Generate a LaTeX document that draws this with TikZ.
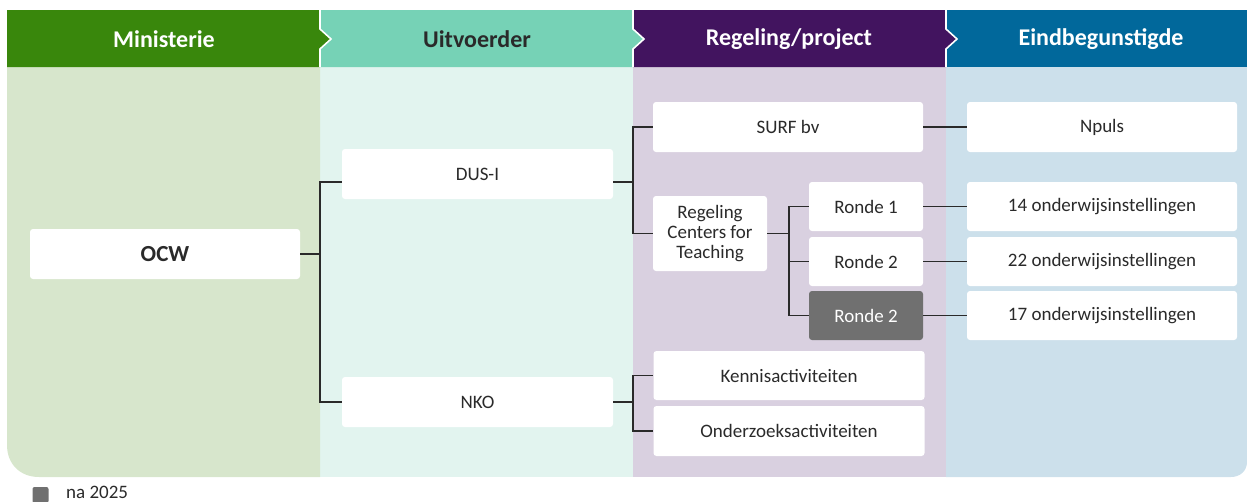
\documentclass[tikz,border=0pt]{standalone}
\usepackage{fontspec}
\setmainfont{Carlito}
\usetikzlibrary{calc}
\definecolor{hgreen}{HTML}{39870C}
\definecolor{hteal}{HTML}{76D2B6}
\definecolor{hpurple}{HTML}{42145F}
\definecolor{hblue}{HTML}{01689B}
\definecolor{lgreen}{HTML}{D7E6CC}
\definecolor{lteal}{HTML}{E2F4EF}
\definecolor{lpurple}{HTML}{D9D0E0}
\definecolor{lblue}{HTML}{CCE0EB}
\definecolor{txt}{HTML}{2A2A2A}
\definecolor{later}{HTML}{707070}
\tikzset{
  box/.style={fill=white, rounded corners=3pt, inner sep=0pt, align=center,
    text=txt, font=\fontsize{19}{20}\selectfont},
  wide/.style={box, minimum width=271pt, minimum height=49pt},
  small/.style={box, minimum width=114pt, minimum height=49pt},
  grey/.style={fill=later, text=white},
  conn/.style={draw=txt, line width=1.4pt},
  head/.style={font=\fontsize{24}{26}\selectfont\bfseries},
  sep/.style={draw=white, line width=1.6pt}
}
\begin{document}
\begin{tikzpicture}[x=1pt,y=-1pt]
\useasboundingbox (0,0) rectangle (1247,501);
% body panels
\fill[lblue] (946,67) -- (1247,67) -- (1247,462) .. controls (1247,471) and (1240,477) .. (1231,477) -- (946,477) -- cycle;
\fill[lpurple] (633,67) rectangle (946,477);
\fill[lteal] (320,67) rectangle (633,477);
\fill[lgreen] (320,67) -- (320,477) -- (39,477) .. controls (20,477) and (7,464) .. (7,445) -- (7,67) -- cycle;
% headers
\fill[hblue] (946,10) rectangle (1247,67);
\fill[hpurple] (633,10) -- (946,10) -- (946,29) -- (957,39) -- (946,49) -- (946,67) -- (633,67) -- cycle;
\draw[sep] (946,10) -- (946,29) -- (957,39) -- (946,49) -- (946,67);
\fill[hteal] (320,10) -- (633,10) -- (633,29) -- (644,39) -- (633,49) -- (633,67) -- (320,67) -- cycle;
\draw[sep] (633,10) -- (633,29) -- (644,39) -- (633,49) -- (633,67);
\fill[hgreen] (7,10) -- (320,10) -- (320,29) -- (331,39) -- (320,49) -- (320,67) -- (7,67) -- cycle;
\draw[sep] (320,10) -- (320,29) -- (331,39) -- (320,49) -- (320,67);
\node[head, text=white] (h1) at (164,39) {Ministerie};
\node[head, text=txt] (h2) at (477,39) {Uitvoerder};
\node[head, text=white] (h3) at (789,39) {Regeling/project};
\node[head, text=white] (h4) at (1101,39) {Eindbegunstigde};
% nodes
\node[wide, font=\fontsize{23}{24}\selectfont\bfseries, minimum width=270pt, minimum height=50pt] (ocw) at (165,254) {OCW};
\node[wide, minimum height=50pt] (dusi) at (477.5,174) {DUS-I};
\node[wide, minimum height=50pt] (nko) at (477.5,402) {NKO};
\node[wide, minimum width=270pt, minimum height=50pt] (surf) at (788,127) {SURF bv};
\node[small, minimum height=75pt] (cft) at (710,233.5) {Regeling\\Centers for\\Teaching};
\node[small] (r1) at (866,206.5) {Ronde 1};
\node[small] (r2) at (866,261.5) {Ronde 2};
\node[small, grey] (r3) at (866,315.5) {Ronde 2};
\node[wide] (kennis) at (789,375.5) {Kennisactiviteiten};
\node[wide, minimum height=50pt] (onderz) at (789,431) {Onderzoeksactiviteiten};
\node[wide, minimum width=270pt, minimum height=50pt] (npuls) at (1102,127) {Npuls};
\node[wide, minimum width=270pt] (o14) at (1102,206.5) {14 onderwijsinstellingen};
\node[wide, minimum width=270pt] (o22) at (1102,261.5) {22 onderwijsinstellingen};
\node[wide, minimum width=270pt] (o17) at (1102,315.5) {17 onderwijsinstellingen};
% junctions
\coordinate (j1) at (320,254);
\coordinate (j2) at (633,182);
\coordinate (j3) at (789,233.5);
\coordinate (j4) at (633,402);
% connectors
\draw[conn] (ocw.east) -- (j1) |- ([yshift=-8pt]dusi.west);
\draw[conn] (j1) |- (nko.west);
\draw[conn] ([yshift=-8pt]dusi.east) -- (j2) |- (surf.west);
\draw[conn] (j2) |- (cft.west);
\draw[conn] (cft.east) -- (j3) |- (r1.west);
\draw[conn] (j3) |- (r3.west);
\draw[conn] (j3 |- r2.west) -- (r2.west);
\draw[conn] (nko.east) -- (j4) |- (kennis.west);
\draw[conn] (j4) |- (onderz.west);
\draw[conn] (surf.east) -- (npuls.west);
\draw[conn] (r1.east) -- (o14.west);
\draw[conn] (r2.east) -- (o22.west);
\draw[conn] (r3.east) -- (o17.west);
% legend
\node[fill=later, rounded corners=2pt, minimum size=16pt, inner sep=0pt] (leg) at (40.5,495) {};
\node[anchor=west, text=txt, font=\fontsize{19}{20}\selectfont, inner sep=0pt] (legt) at (66,492.5) {na 2025};
\end{tikzpicture}
\end{document}
